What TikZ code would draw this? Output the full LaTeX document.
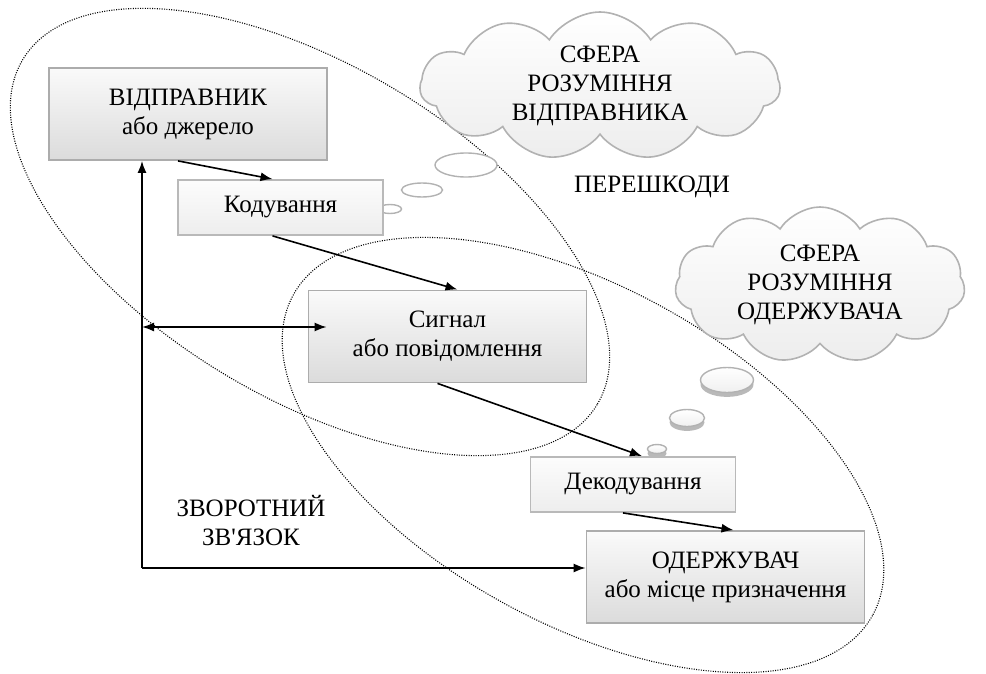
\documentclass[tikz,border=0pt]{standalone}
\usepackage{fontspec}
\setmainfont{Liberation Serif}
\usetikzlibrary{arrows.meta,shapes.geometric,shapes.symbols,shadows}

\tikzset{
  bigbox/.style={draw=gray!65, line width=0.9pt, top color=gray!4, bottom color=gray!28,
    minimum width=139pt, minimum height=46pt, align=center, inner sep=2pt},
  smallbox/.style={draw=gray!55, line width=0.9pt, top color=gray!2, bottom color=gray!14,
    minimum width=102.5pt, minimum height=27.5pt, inner sep=2pt},
  thought/.style={cloud, cloud puffs=11, cloud puff arc=115, cloud ignores aspect,
    draw=gray!60, line width=0.8pt, top color=white, bottom color=gray!14, align=center, inner sep=0pt},
  puff/.style={ellipse, draw=gray!60, line width=0.7pt, fill=white, inner sep=0pt},
  puffd/.style={puff, top color=white, bottom color=gray!12,
    drop shadow={shadow xshift=0pt, shadow yshift=-2.2pt, fill=gray!55, opacity=1}},
  sphere/.style={line width=0.55pt, dash pattern=on 0.5pt off 0.7pt},
  link/.style={line width=0.8pt, ->},
}

\begin{document}
\begin{tikzpicture}[x=0.5pt, y=-0.5pt, >={Latex[length=6pt,width=4.5pt]},
  font=\fontsize{12.5}{14.5}\selectfont]
\useasboundingbox (0,0) rectangle (986,674);
\draw[sphere, rotate around={-31:(310,232)}] (310,232) ellipse [x radius=335, y radius=166];
\draw[sphere, rotate around={-29:(583,455)}] (583,455) ellipse [x radius=331, y radius=168];

\node[thought, minimum width=180pt, minimum height=74pt] (sfs) at (600,86) {СФЕРА\\РОЗУМІННЯ\\ВІДПРАВНИКА};
\node[thought, minimum width=145pt, minimum height=78pt] (sfr) at (820,285) {СФЕРА\\РОЗУМІННЯ\\ОДЕРЖУВАЧА};
\node[puff, minimum width=31pt, minimum height=12pt] (ps1) at (466,165) {};
\node[puff, minimum width=20.5pt, minimum height=7pt] (ps2) at (422,190) {};
\node[puff, minimum width=11.5pt, minimum height=4.5pt] (ps3) at (390,209) {};
\node[puffd, minimum width=26.5pt, minimum height=12.5pt] (pr1) at (727,380) {};
\node[puffd, minimum width=17.5pt, minimum height=8.5pt] (pr2) at (687,418) {};
\node[puffd, minimum width=9.5pt, minimum height=4.5pt] (pr3) at (657,449) {};

\node[bigbox] (snd) at (188,114) {ВІДПРАВНИК\\або джерело};
\node[smallbox] (cod) at (280.5,207.5) {Кодування};
\node[bigbox] (sig) at (447.5,336.5) {Сигнал\\або повідомлення};
\node[smallbox] (dec) at (633,484.5) {Декодування};
\node[bigbox] (rcv) at (725.5,577) {ОДЕРЖУВАЧ\\або місце призначення};

\node (noise) at (652,187) {ПЕРЕШКОДИ};
\node[align=center] (fbtext) at (251,521) {ЗВОРОТНИЙ\\ЗВ\textquotesingle ЯЗОК};

\coordinate (fbmid) at (142,327);
\coordinate (fbbot) at (142,568);
\coordinate (sigin) at ([xshift=9.5pt]sig.west);

\path[link] ([xshift=-5pt]snd.south) edge ([xshift=-4pt]cod.north);
\path[link] ([xshift=-4pt]cod.south) edge ([xshift=5pt]sig.north);
\path[link] ([xshift=-5pt]sig.south) edge ([xshift=4.5pt]dec.north);
\path[link] ([xshift=-5pt]dec.south) edge ([xshift=4pt]rcv.north);
\path[link] (fbbot) edge (fbbot |- snd.south);
\path[link] (fbbot) edge (fbbot -| rcv.west);
\path[link, <->] (fbmid) edge (fbmid -| sigin);
\end{tikzpicture}
\end{document}
